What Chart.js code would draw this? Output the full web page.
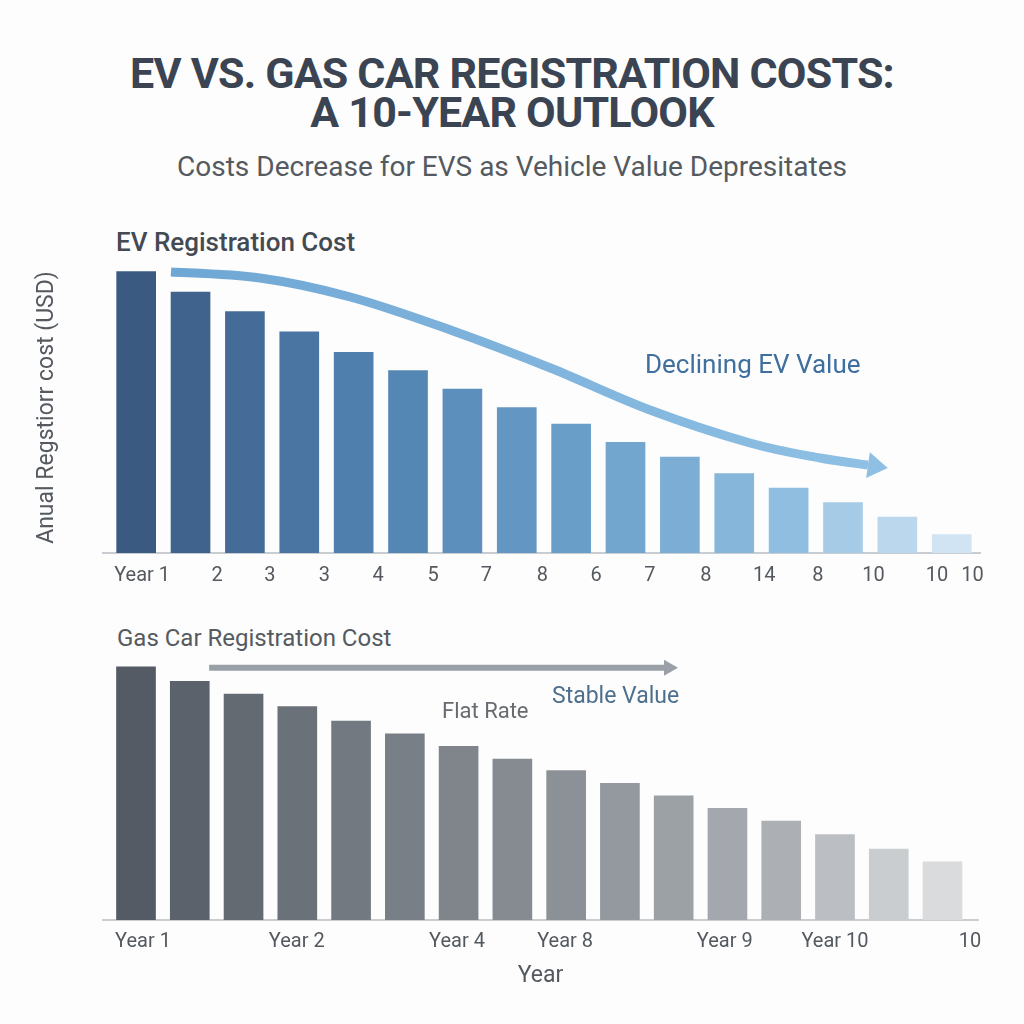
<!DOCTYPE html>
<html>
<head>
<meta charset="utf-8">
<script src="https://cdn.jsdelivr.net/npm/chart.js@4.4.1/dist/chart.umd.min.js"></script>
<style>
  html, body { margin: 0; padding: 0; background: #fdfdfd; }
  #page { position: relative; width: 1024px; height: 1024px; overflow: hidden; font-family: Roboto, "Noto Sans", sans-serif; }
  .txt { position: absolute; white-space: nowrap; }
  #title { left: 0; width: 1024px; top: 54px; text-align: center; font-size: 43px; font-weight: 700; line-height: 39px; color: #3b4452; letter-spacing: -0.8px; }
  #subtitle { left: 0; width: 1024px; top: 150px; text-align: center; font-size: 28px; color: #555a60; }
  #evHead { left: 116px; top: 227px; font-size: 26px; font-weight: 500; color: #444a52; }
  #gasHead { left: 117px; top: 624px; font-size: 24px; color: #555a60; }
  #declining { left: 645px; top: 349px; font-size: 26px; color: #3f6f9f; }
  #stable { left: 552px; top: 682px; font-size: 23px; color: #4d6f8c; }
  #flat { left: 442px; top: 698px; font-size: 22px; color: #666b70; }
  canvas { position: absolute; left: 0; }
</style>
</head>
<body>
<div id="page">
  <div id="title" class="txt">EV VS. GAS CAR REGISTRATION COSTS:<br>A 10-YEAR OUTLOOK</div>
  <div id="subtitle" class="txt">Costs Decrease for EVS as Vehicle Value Depresitates</div>
  <div id="evHead" class="txt">EV Registration Cost</div>
  <div id="gasHead" class="txt">Gas Car Registration Cost</div>
  <div style="position:absolute;left:0;top:250px;width:1024px;height:350px"><canvas id="evChart"></canvas></div>
  <div style="position:absolute;left:0;top:650px;width:1024px;height:350px"><canvas id="gasChart"></canvas></div>
  <div id="declining" class="txt">Declining EV Value</div>
  <div id="stable" class="txt">Stable Value</div>
  <div id="flat" class="txt">Flat Rate</div>
</div>
<script>
// Data (annual registration cost, USD, estimated)
const barIndex = [1, 2, 3, 4, 5, 6, 7, 8, 9, 10, 11, 12, 13, 14, 15, 16];
const evCosts = [290, 269, 249, 228, 207, 188, 169, 150, 133, 114, 99, 82, 67, 52, 37, 19];
const gasCosts = [261, 246, 233, 220, 205, 192, 179, 166, 154, 141, 128, 115, 102, 88, 73, 60];

// Tick labels as printed (they do not line up with the bars)
const evTickLabels = ["Year 1", "2", "3", "3", "4", "5", "7", "8", "6", "7", "8", "14", "8", "10", "10", "10"];
const evTickPos = [1.11, 2.49, 3.46, 4.46, 5.45, 6.46, 7.44, 8.47, 9.46, 10.45, 11.48, 12.55, 13.54, 14.56, 15.73, 16.38];
const gasTickLabels = ["Year 1", "Year 2", "Year 4", "Year 8", "Year 9", "Year 10", "10"];
const gasTickPos = [1.13, 3.99, 6.97, 8.98, 11.95, 14.0, 16.51];

// Annotation arrows, in data units (x = bar position, y = USD)
const evArrowX = [1.64, 3.28, 4.94, 6.78, 8.62, 10.45, 12.29, 13.58, 14.46];
const evArrowY = [289.7, 283.5, 263.9, 229.9, 190.7, 147.4, 113.4, 97.9, 90.7];
const gasArrowX = [2.36, 10.82];
const gasArrowY = [260, 260];

function lerpColor(stops, t) {
    let i = 0;
    while (i < stops.length - 2 && t > stops[i + 1][0]) i++;
    const [t0, c0] = stops[i], [t1, c1] = stops[i + 1];
    const f = (t - t0) / (t1 - t0);
    const a = [1, 3, 5].map(k => parseInt(c0.substr(k, 2), 16));
    const b = [1, 3, 5].map(k => parseInt(c1.substr(k, 2), 16));
    return "rgb(" + a.map((v, k) => Math.round(v + (b[k] - v) * f)).join(",") + ")";
}
const evStops = [[0, "#3b5a82"], [0.27, "#4f7fae"], [0.53, "#699ec9"], [0.8, "#8fbee0"], [1, "#d0e4f3"]];
const gasStops = [[0, "#555b64"], [0.27, "#737980"], [0.53, "#8c9197"], [0.8, "#acb0b5"], [1, "#d9dbdd"]];
const evColors = evCosts.map((_, i) => lerpColor(evStops, i / (evCosts.length - 1)));
const gasColors = gasCosts.map((_, i) => lerpColor(gasStops, i / (gasCosts.length - 1)));

function arrowHead(ctx, x0, y0, x1, y1, len, half, color) {
    const ang = Math.atan2(y1 - y0, x1 - x0);
    ctx.fillStyle = color;
    ctx.beginPath();
    ctx.moveTo(x1 + Math.cos(ang) * len, y1 + Math.sin(ang) * len);
    ctx.lineTo(x1 - Math.sin(ang) * half, y1 + Math.cos(ang) * half);
    ctx.lineTo(x1 + Math.sin(ang) * half, y1 - Math.cos(ang) * half);
    ctx.closePath();
    ctx.fill();
}

// draws an arrow through the given data points after the bars
function arrowPlugin(xs, ys, opts) {
    return {
        id: "arrow",
        afterDatasetsDraw(chart) {
            const ctx = chart.ctx;
            const sx = chart.scales.x, sy = chart.scales.y;
            const pts = xs.map((x, i) => [sx.getPixelForValue(x), sy.getPixelForValue(ys[i])]);
            ctx.save();
            const grad = ctx.createLinearGradient(pts[0][0], 0, pts[pts.length - 1][0], 0);
            grad.addColorStop(0, opts.from);
            grad.addColorStop(1, opts.to);
            ctx.strokeStyle = grad;
            ctx.lineWidth = opts.width;
            ctx.lineCap = "butt";
            ctx.beginPath();
            ctx.moveTo(pts[0][0], pts[0][1]);
            // Catmull-Rom through the points
            for (let i = 0; i < pts.length - 1; i++) {
                const p0 = pts[Math.max(i - 1, 0)], p1 = pts[i], p2 = pts[i + 1], p3 = pts[Math.min(i + 2, pts.length - 1)];
                ctx.bezierCurveTo(
                    p1[0] + (p2[0] - p0[0]) / 6, p1[1] + (p2[1] - p0[1]) / 6,
                    p2[0] - (p3[0] - p1[0]) / 6, p2[1] - (p3[1] - p1[1]) / 6,
                    p2[0], p2[1]);
            }
            ctx.stroke();
            const a = pts[pts.length - 2], b = pts[pts.length - 1];
            arrowHead(ctx, a[0], a[1], b[0], b[1], opts.headLen, opts.headHalf, opts.to);
            ctx.restore();
        }
    };
}

function barChart(id, values, colors, ticksPos, ticksLabels, cfg) {
    return new Chart(document.getElementById(id), {
        type: "bar",
        data: {
            datasets: [{
                data: values.map((v, i) => ({ x: barIndex[i], y: v })),
                backgroundColor: colors,
                borderWidth: 0,
                barThickness: 39,
            }],
        },
        options: {
            responsive: true,
            maintainAspectRatio: false,
            animation: false,
            layout: { padding: cfg.padding },
            plugins: { legend: { display: false }, tooltip: { enabled: false } },
            scales: {
                x: {
                    type: "linear",
                    offset: false,
                    min: cfg.xMin,
                    max: cfg.xMax,
                    grid: { display: false, drawTicks: false },
                    border: { display: true, color: "#c9cdd2", width: 2 },
                    afterBuildTicks: (scale) => { scale.ticks = ticksPos.map(v => ({ value: v })); },
                    afterFit: (scale) => { scale.height = cfg.xHeight; },
                    ticks: {
                        autoSkip: false,
                        maxRotation: 0,
                        minRotation: 0,
                        padding: cfg.tickPad,
                        color: "#54595f",
                        font: { family: "Roboto", size: 20 },
                        callback: (value, index) => ticksLabels[index],
                    },
                    title: cfg.xTitle,
                },
                y: {
                    display: cfg.yDisplay,
                    min: 0,
                    max: cfg.yMax,
                    grid: { display: false, drawTicks: false },
                    border: { display: false },
                    ticks: { display: false },
                    afterFit: (scale) => { scale.width = cfg.yWidth; },
                    title: cfg.yTitle,
                },
            },
        },
        plugins: [cfg.arrow],
    });
}

barChart("evChart", evCosts, evColors, evTickPos, evTickLabels, {
    padding: { left: 30, right: 44, top: 12, bottom: 7 },
    xMin: 0.39, xMax: 16.52, xHeight: 40, tickPad: 11,
    xTitle: { display: false },
    yDisplay: true, yMax: 300, yWidth: 73,
    yTitle: {
        display: true,
        text: "Anual Regstiorr cost (USD)",
        color: "#555a60",
        font: { family: "Roboto", size: 23 },
        padding: { top: 3, bottom: 3 },
    },
    arrow: arrowPlugin(evArrowX, evArrowY, { from: "#6fa7d4", to: "#8fc0e4", width: 9, headLen: 20, headHalf: 13 }),
});

barChart("gasChart", gasCosts, gasColors, gasTickPos, gasTickLabels, {
    padding: { left: 103, right: 46, top: 10, bottom: 0 },
    xMin: 0.386, xMax: 16.66, xHeight: 80, tickPad: 10,
    xTitle: {
        display: true,
        text: "Year",
        color: "#54595f",
        font: { family: "Roboto", size: 23 },
        padding: { top: 0, bottom: 10 },
    },
    yDisplay: false, yMax: 268, yWidth: 0,
    yTitle: { display: false },
    arrow: arrowPlugin(gasArrowX, gasArrowY, { from: "#9aa0a7", to: "#9aa0a7", width: 6, headLen: 14, headHalf: 8 }),
});
</script>
</body>
</html>
